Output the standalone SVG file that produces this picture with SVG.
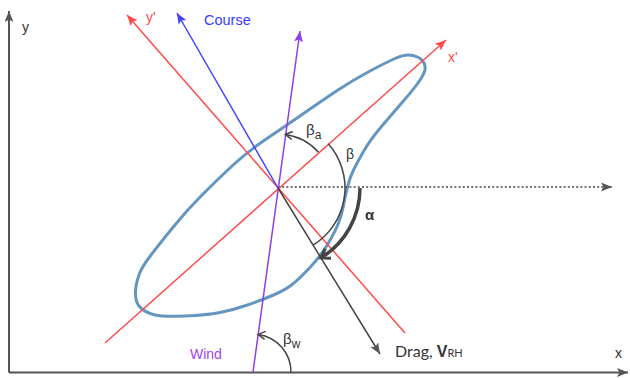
<svg xmlns="http://www.w3.org/2000/svg" width="630" height="378" viewBox="0 0 630 378">
<style>
.ax{stroke:#555;stroke-width:2;fill:none}
.red{stroke:#ff4a4a;stroke-width:1.5;fill:none}
.blue{stroke:#4444ff;stroke-width:1.5;fill:none}
.pur{stroke:#8f3fe6;stroke-width:1.5;fill:none}
.drk{stroke:#444;stroke-width:1.5;fill:none}
.arc{stroke:#444;stroke-width:1.5;fill:none}
.hull{stroke:#6496bf;stroke-width:3;fill:none;stroke-linejoin:round}
text{font-family:"Liberation Sans",Arial,sans-serif;font-size:14px;fill:#333}
</style>
<defs>
<marker id="ag" markerUnits="userSpaceOnUse" markerWidth="12" markerHeight="10" refX="11" refY="4.5" orient="auto"><path d="M0,0 L11,4.5 L0,9 L2.5,4.5 Z" fill="#555"/></marker>
<marker id="ar" markerUnits="userSpaceOnUse" markerWidth="12" markerHeight="10" refX="11" refY="4.5" orient="auto"><path d="M0,0 L11,4.5 L0,9 L2.5,4.5 Z" fill="#ff4a4a"/></marker>
<marker id="ab" markerUnits="userSpaceOnUse" markerWidth="12" markerHeight="10" refX="11" refY="4.5" orient="auto"><path d="M0,0 L11,4.5 L0,9 L2.5,4.5 Z" fill="#4444ff"/></marker>
<marker id="ap" markerUnits="userSpaceOnUse" markerWidth="12" markerHeight="10" refX="11" refY="4.5" orient="auto"><path d="M0,0 L11,4.5 L0,9 L2.5,4.5 Z" fill="#8f3fe6"/></marker>
<marker id="cv" markerUnits="userSpaceOnUse" markerWidth="12" markerHeight="12" refX="8" refY="5" orient="auto"><path d="M1,1 L8,5 L1,9" fill="none" stroke="#444" stroke-width="1.5"/></marker>
<marker id="cvb" markerUnits="userSpaceOnUse" markerWidth="16" markerHeight="16" refX="10" refY="7" orient="auto"><path d="M1.5,1.5 L10,7 L1.5,12.5" fill="none" stroke="#444" stroke-width="3"/></marker>
</defs>

<g id="axes">
<path class="ax" d="M9,372.5 L9,11" marker-end="url(#ag)"/>
<path class="ax" d="M9,372.5 L628,372.5" marker-end="url(#ag)"/>
<text x="22" y="32">y</text>
<text x="615" y="358">x</text>
</g>

<g id="hull">
<path class="hull" d="M408,55 Q413,55 417.5,57 Q422,59 424,63 Q426,67 424.5,71.5 Q423,76 418,83 Q413,90 403,101.5 Q393,113 381.5,126.5 Q370,140 363.5,151.5 Q357,163 353.5,170 Q350,177 347.5,187 Q345,197 343.5,205.5 Q342,214 338.5,223 Q335,232 327.5,244.5 Q320,257 309,268.5 Q298,280 291.5,285 Q285,290 273.5,295 Q262,300 247.5,305 Q233,310 220,312.5 Q207,315 185,316 Q163,317 155,315 Q147,313 142,309 Q137,305 136,299 Q135,293 136,286.5 Q137,280 139.5,273.5 Q142,267 149.5,257 Q157,247 172,228.5 Q187,210 202,195 Q217,180 232,166 Q247,152 267,138.5 Q287,125 303.5,113.5 Q320,102 336.5,91 Q353,80 370,71 Q387,62 395,58.5 Q403,55 408,55 Z"/>
</g>

<g id="connectors">
<path class="drk" d="M278,187 L612,187" stroke-dasharray="2 2.2" stroke="#555" marker-end="url(#ag)"/>
<path class="red" d="M405,333 L127,15" marker-end="url(#ar)"/>
<path class="red" d="M105,343 L446,40" marker-end="url(#ar)"/>
<path class="blue" d="M278,188 L177,13" marker-end="url(#ab)"/>
<path class="pur" d="M253,372 L300,31" marker-end="url(#ap)"/>
<path class="drk" d="M278,188 L380,354" marker-end="url(#ag)"/>
</g>

<g id="angles">
<path class="arc" d="M318.5,152.3 A54,54 0 0 0 285.3,134.5" marker-end="url(#cv)"/>
<path class="arc" d="M328.3,143.7 A67,67 0 0 1 313.1,245.1"/>
<path d="M360,188 A82,82 0 0 1 320.9,257.9" fill="none" stroke="#444" stroke-width="3.5" marker-end="url(#cvb)"/>
<path class="arc" d="M291,372.5 A38,38 0 0 0 258.2,334.4" marker-end="url(#cv)"/>
</g>

<g id="labels">
<text x="146" y="22" fill="#ff4a4a" style="fill:#ff4a4a">y'</text>
<text x="204" y="25" style="fill:#3a3aff;font-size:14.5px">Course</text>
<text x="448" y="62" style="fill:#ff4a4a">x'</text>
<text x="190" y="359" style="fill:#a045f0">Wind</text>
<text x="306" y="135" style="font-size:15px">β<tspan dy="4" font-size="12">a</tspan></text>
<text x="346" y="159" style="font-size:14px">β</text>
<text x="365" y="220" style="font-size:15px;font-weight:bold;fill:#333">α</text>
<text x="283" y="344" style="font-size:15px">β<tspan dy="4" font-size="12">w</tspan></text>
<text x="395" y="357" style="font-family:Lato,'Liberation Sans',sans-serif;font-size:16px">Drag, <tspan font-weight="bold" font-family="'Liberation Sans',sans-serif">V</tspan><tspan font-size="11">RH</tspan></text>
</g>
</svg>
